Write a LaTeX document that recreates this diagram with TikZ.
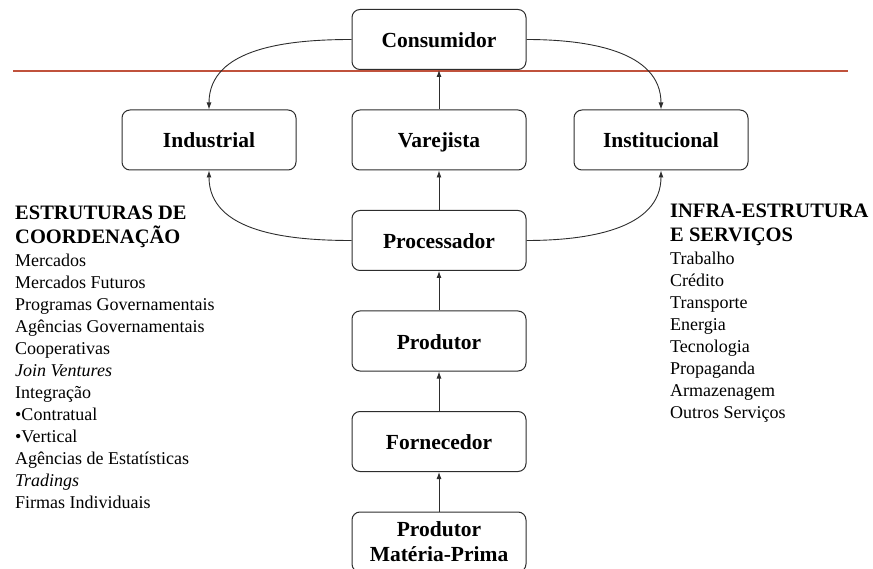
\documentclass[tikz,border=0pt]{standalone}
\usepackage{fontspec}
\setmainfont{Liberation Serif}
\usepackage{tikz}
\usetikzlibrary{arrows.meta,positioning}
\definecolor{sepred}{RGB}{192,82,60}
\definecolor{edgegray}{RGB}{45,45,45}

\begin{document}
\begin{tikzpicture}[
    x=1pt, y=-1pt,
    node distance=39.5pt,
    box/.style={draw=edgegray, line width=1pt, rounded corners=8pt, fill=white,
        minimum width=174pt, minimum height=60pt, align=center,
        text height=17pt, text depth=1pt,
        font=\fontsize{21.5}{25}\selectfont\bfseries},
    flow/.style={draw=edgegray, line width=0.9pt, -{Latex[length=7pt,width=5pt]}},
    head/.style={font=\fontsize{20.5}{24}\selectfont\bfseries, align=left, inner sep=0pt},
    items/.style={font=\fontsize{18}{22}\selectfont, align=left, inner sep=0pt}
]
\useasboundingbox (0,0) rectangle (873,569);

% linha separadora
\coordinate (sepL) at (13,71);
\coordinate (sepR) at (848,71);
\draw[sepred, line width=2pt] (sepL) -- (sepR);

% cadeia central
\node[box, text height=, text depth=] (mprima) at (439,542) {Produtor\\Matéria-Prima};
\node[box, above=of mprima] (fornecedor) {Fornecedor};
\node[box, above=of fornecedor] (produtor) {Produtor};
\node[box, above=of produtor] (processador) {Processador};
\node[box, above=of processador] (varejista) {Varejista};
\node[box, left=55pt of varejista] (industrial) {Industrial};
\node[box, right=47pt of varejista] (institucional) {Institucional};
\node[box, above=of varejista] (consumidor) {Consumidor};

\draw[flow] (mprima) -- (fornecedor);
\draw[flow] (fornecedor) -- (produtor);
\draw[flow] (produtor) -- (processador);
\draw[flow] (processador) -- (varejista);
\draw[flow] (varejista) -- (consumidor);
\draw[flow] (consumidor.west) to[out=180,in=90] (industrial.north);
\draw[flow] (consumidor.east) to[out=0,in=90] (institucional.north);
\draw[flow] (processador.west) to[out=180,in=-90] (industrial.south);
\draw[flow] (processador.east) to[out=0,in=-90] (institucional.south);

% textos laterais
\node[head, anchor=north west] (coordhead) at (15,206) {ESTRUTURAS DE\\COORDENAÇÃO};
\node[items, below=6pt of coordhead.south west, anchor=north west] (coordlist) {Mercados\\
    Mercados Futuros\\
    Programas Governamentais\\
    Agências Governamentais\\
    Cooperativas\\
    \textit{Join Ventures}\\
    Integração\\
    •Contratual\\
    •Vertical\\
    Agências de Estatísticas\\
    \textit{Tradings}\\
    Firmas Individuais};

\node[head, anchor=north west] (infrahead) at (670,203.5) {INFRA-ESTRUTURA\\E SERVIÇOS};
\node[items, below=6pt of infrahead.south west, anchor=north west] (infralist) {Trabalho\\
    Crédito\\
    Transporte\\
    Energia\\
    Tecnologia\\
    Propaganda\\
    Armazenagem\\
    Outros Serviços};
\end{tikzpicture}
\end{document}
